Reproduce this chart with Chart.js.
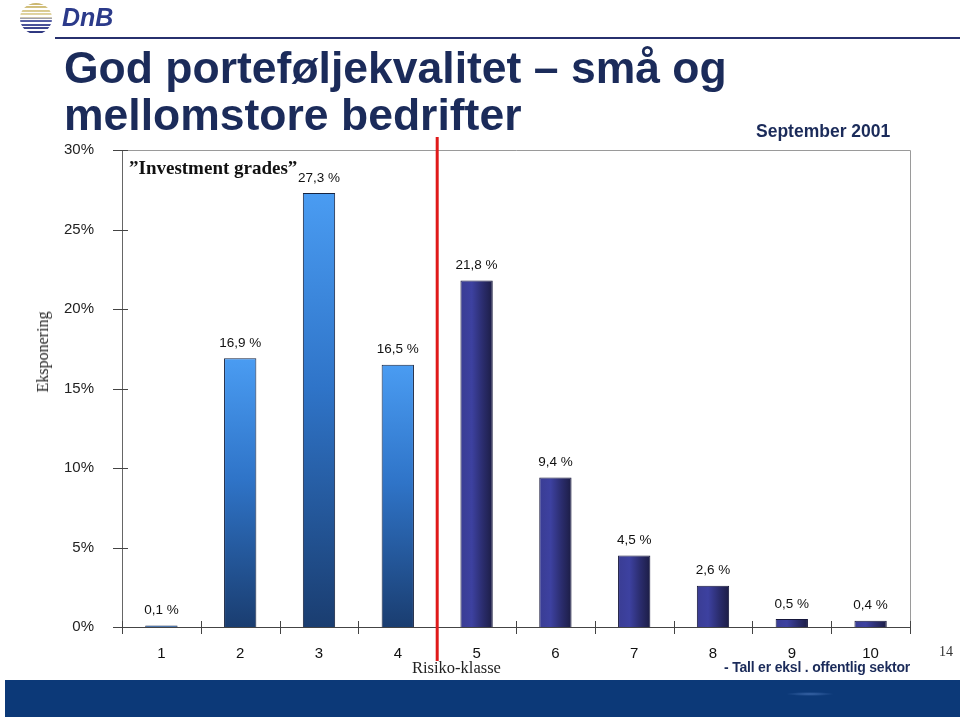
<!DOCTYPE html>
<html>
<head>
<meta charset="utf-8">
<script src="https://cdn.jsdelivr.net/npm/chart.js@4/dist/chart.umd.min.js"></script>
<style>
  body { margin: 0; background: #fff; }
  #wrap { position: relative; width: 960px; height: 723px; overflow: hidden; font-family: "Liberation Sans", Arial, sans-serif; }
  #chartCanvas { position: absolute; left: 0; top: 0; }
  .abs { position: absolute; white-space: nowrap; }
  #title { left: 64px; top: 44px; font-size: 44.5px; font-weight: bold; color: #1b2b5a; line-height: 47px; }
  #topline { left: 55px; top: 37px; width: 905px; height: 2px; background: #27306e; }
  #sept { left: 756px; top: 121px; font-size: 17.5px; font-weight: bold; color: #1b2b5a; }
  #inv { left: 129px; top: 157px; font-family: "Liberation Serif", "Times New Roman", serif; font-size: 19px; font-weight: bold; color: #111; }
  #ytitle { left: 43px; top: 352px; font-family: "Liberation Serif", serif; font-size: 16px; color: #222; transform: translate(-50%, -50%) rotate(-90deg); }
  #xtitle { left: 412px; top: 658px; font-family: "Liberation Serif", serif; font-size: 16.5px; color: #222; }
  #note { left: 724px; top: 659px; font-size: 14px; font-weight: bold; color: #1b2b5a; letter-spacing: -0.2px; }
  #page { left: 939px; top: 644px; font-family: "Liberation Serif", serif; font-size: 14px; color: #333; }
  #band { left: 5px; top: 680px; width: 955px; height: 37px; background: radial-gradient(ellipse 24px 2px at 805px 14px, #3a66a8, #0c3978 100%); }
  #globe { left: 20px; top: 3px; width: 32px; height: 31px; border-radius: 50%;
    background: repeating-linear-gradient(180deg, transparent 0 2px, #fff 2px 3.5px), linear-gradient(180deg, #c9b46a 0%, #e6dcae 45%, #5a63a8 55%, #28307a 100%); }
  #dnb { left: 62px; top: 3px; font-size: 25px; font-weight: bold; font-style: italic; color: #2b3a8a; }
</style>
</head>
<body>
<div id="wrap">
  <canvas id="chartCanvas" width="960" height="723"></canvas>
  <div class="abs" id="globe"></div>
  <div class="abs" id="dnb">DnB</div>
  <div class="abs" id="topline"></div>
  <div class="abs" id="title">God porteføljekvalitet – små og<br>mellomstore bedrifter</div>
  <div class="abs" id="sept">September 2001</div>
  <div class="abs" id="inv">”Investment grades”</div>
  <div class="abs" id="ytitle">Eksponering</div>
  <div class="abs" id="xtitle">Risiko-klasse</div>
  <div class="abs" id="note">- Tall er eksl . offentlig sektor</div>
  <div class="abs" id="page">14</div>
  <div class="abs" id="band"></div>
</div>
<script>
// data
const classes = ['1', '2', '3', '4', '5', '6', '7', '8', '9', '10'];
const exposure = [0.1, 16.9, 27.3, 16.5, 21.8, 9.4, 4.5, 2.6, 0.5, 0.4];
const yTicks = [0, 5, 10, 15, 20, 25, 30];
const investmentCount = 4; // klasse 1-4 = investment grade

const barPct = 0.41;

function barFill(ctx) {
    const chart = ctx.chart;
    const area = chart.chartArea;
    if (!area || ctx.type !== 'data') return '#3a80d8';
    const xs = chart.scales.x, ys = chart.scales.y;
    const i = ctx.dataIndex;
    const g = chart.ctx;
    if (i < investmentCount) {
        const top = ys.getPixelForValue(exposure[i]);
        const bot = ys.getPixelForValue(0);
        const grad = g.createLinearGradient(0, top, 0, bot + 0.01);
        grad.addColorStop(0, '#4a9cf2');
        grad.addColorStop(0.45, '#2f74c8');
        grad.addColorStop(1, '#1a3d70');
        return grad;
    }
    const cx = xs.getPixelForValue(i);
    const half = (xs.width / classes.length) * barPct / 2;
    const grad = g.createLinearGradient(cx - half, 0, cx + half, 0);
    grad.addColorStop(0, '#3a3d94');
    grad.addColorStop(0.35, '#3d41a0');
    grad.addColorStop(0.7, '#2a2c6c');
    grad.addColorStop(1, '#1c1d45');
    return grad;
}

// labels over bars, red line, top/right frame
const extras = {
    id: 'extras',
    afterDatasetsDraw(chart) {
        const g = chart.ctx;
        const xs = chart.scales.x, ys = chart.scales.y;
        const a = chart.chartArea;
        g.save();
        // frame
        g.strokeStyle = '#9a9a9a';
        g.lineWidth = 1;
        g.beginPath();
        g.moveTo(a.left, a.top + 0.5);
        g.lineTo(a.right + 0.5, a.top + 0.5);
        g.lineTo(a.right + 0.5, a.bottom);
        g.stroke();
        // y ticks crossing axis
        g.strokeStyle = '#444';
        yTicks.forEach(v => {
            const y = Math.round(ys.getPixelForValue(v)) + 0.5;
            g.beginPath();
            g.moveTo(a.left - 9, y);
            g.lineTo(a.left + 6, y);
            g.stroke();
        });
        // x ticks crossing axis
        for (let k = 0; k <= classes.length; k++) {
            const x = Math.round(a.left + k * (a.right - a.left) / classes.length) + 0.5;
            g.beginPath();
            g.moveTo(x, a.bottom - 6);
            g.lineTo(x, a.bottom + 7);
            g.stroke();
        }
        // value labels
        g.fillStyle = '#111';
        g.font = '13.5px "Liberation Sans", Arial, sans-serif';
        g.textAlign = 'center';
        g.textBaseline = 'middle';
        exposure.forEach((v, i) => {
            const x = xs.getPixelForValue(i);
            const y = ys.getPixelForValue(v) - 15;
            g.fillText(v.toFixed(1).replace('.', ',') + ' %', x, y);
        });
        // red line between klasse 4 og 5
        const rx = (xs.getPixelForValue(investmentCount - 1) + xs.getPixelForValue(investmentCount)) / 2;
        g.strokeStyle = '#e01a1a';
        g.lineWidth = 3;
        g.beginPath();
        g.moveTo(rx, a.top - 13);
        g.lineTo(rx, a.bottom + 34);
        g.stroke();
        g.restore();
    }
};

new Chart(document.getElementById('chartCanvas'), {
    type: 'bar',
    data: {
        labels: classes,
        datasets: [{
            data: exposure,
            backgroundColor: barFill,
            borderColor: (ctx) => ctx.dataIndex < investmentCount ? '#16233f' : '#15163a',
            borderWidth: 1,
            barPercentage: barPct,
            categoryPercentage: 1
        }]
    },
    options: {
        responsive: false,
        animation: false,
        layout: { padding: { left: 0, top: 150, right: 50, bottom: 56 } },
        plugins: { legend: { display: false }, tooltip: { enabled: false } },
        scales: {
            x: {
                grid: { display: false },
                border: { display: true, color: '#444', width: 1 },
                ticks: { color: '#111', font: { size: 15, family: '"Liberation Sans", Arial, sans-serif' }, padding: 10, maxRotation: 0 },
                afterFit: (s) => { s.height = 40; }
            },
            y: {
                min: 0,
                max: 30,
                afterBuildTicks: (s) => { s.ticks = yTicks.map(v => ({ value: v })); },
                grid: { display: false },
                border: { display: true, color: '#666', width: 1 },
                ticks: {
                    color: '#222',
                    font: { size: 15, family: '"Liberation Sans", Arial, sans-serif' },
                    padding: 20,
                    callback: (v) => v + '%'
                },
                afterFit: (s) => { s.width = 122; }
            }
        }
    },
    plugins: [extras]
});
</script>
</body>
</html>
